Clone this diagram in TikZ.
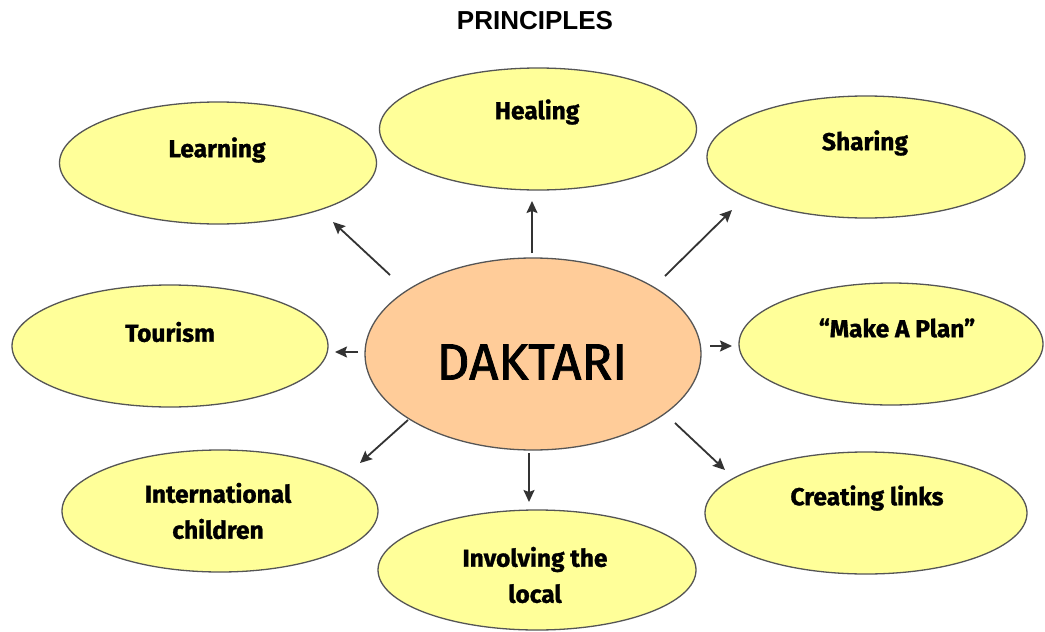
\documentclass[tikz,border=0pt]{standalone}
\usepackage{fontspec}
\setmainfont{Fira Sans}
\newfontfamily\titlefont{Liberation Sans}
\newfontfamily\labfont{Fira Sans}[Ligatures=TeX,BoldFeatures={FakeBold=1.2}]
\newfontfamily\dakfont{Fira Sans}[FakeBold=1.6]
\usetikzlibrary{shapes.geometric,arrows.meta}
\definecolor{bubble}{HTML}{FFFF99}
\definecolor{core}{HTML}{FFCC99}
\definecolor{edge}{HTML}{555555}
\definecolor{arrowc}{HTML}{333333}
\begin{document}
\begin{tikzpicture}[x=1pt,y=-1pt,
  bub/.style={ellipse,draw=edge,line width=1.3pt,fill=bubble,inner sep=0pt},
  lab/.style={font=\labfont\fontsize{24.5}{36}\selectfont\bfseries,align=center,inner sep=0pt},
  arr/.style={draw=arrowc,line width=1.8pt,-{Stealth[length=12pt,width=11pt,inset=2pt]}}]
\useasboundingbox (0,0) rectangle (1045,632);
\fill[white] (0,0) rectangle (1045,632);

\node[font=\titlefont\fontsize{26}{30}\selectfont\bfseries,inner sep=0pt] (title) at (535,21) {PRINCIPLES};

% bubbles
\node[bub,minimum width=317pt,minimum height=122pt] (learn) at (218,163) {};
\node[bub,minimum width=317pt,minimum height=122pt] (heal) at (538,129) {};
\node[bub,minimum width=318pt,minimum height=122pt] (share) at (866,157) {};
\node[bub,minimum width=316pt,minimum height=122pt] (tour) at (170,346) {};
\node[bub,minimum width=304pt,minimum height=122pt] (plan) at (891,344) {};
\node[bub,minimum width=316pt,minimum height=122pt] (intl) at (220,511) {};
\node[bub,minimum width=318pt,minimum height=120pt] (invol) at (537,570) {};
\node[bub,minimum width=322pt,minimum height=122pt] (links) at (866,513) {};
\node[ellipse,draw=edge,line width=1.3pt,fill=core,inner sep=0pt,minimum width=336pt,minimum height=192pt] (dak) at (533,354) {};

% labels
\node[lab] (learnT) at (217,150) {Learning};
\node[lab] (healT) at (537,112) {Healing};
\node[lab] (shareT) at (865,143) {Sharing};
\node[lab] (tourT) at (170,332) {Tourism};
\node[lab] (planT) at (897,328) {“Make A Plan”};
\node[lab] (intlT) at (218,511) {International\\children};
\node[lab] (involT) at (535,575) {Involving the\\local};
\node[lab] (linksT) at (867,498) {Creating links};
\node[font=\dakfont\fontsize{51}{55}\selectfont,inner sep=0pt] (dakT) at (532,362) {DAKTARI};

% arrow ends
\coordinate (s1) at (390,275); \coordinate (t1) at (333,222);
\coordinate (s2) at (532,253); \coordinate (t2) at (532,201);
\coordinate (s3) at (665,276); \coordinate (t3) at (732,210);
\coordinate (s4) at (710,346); \coordinate (t4) at (732,346);
\coordinate (s5) at (358,352); \coordinate (t5) at (335,352);
\coordinate (s6) at (408,420); \coordinate (t6) at (360,463);
\coordinate (s7) at (529,453); \coordinate (t7) at (529,502);
\coordinate (s8) at (675,423); \coordinate (t8) at (725,470);

\draw[arr] (s1) -- (t1);
\draw[arr] (s2) -- (t2);
\draw[arr] (s3) -- (t3);
\draw[arr] (s4) -- (t4);
\draw[arr] (s5) -- (t5);
\draw[arr] (s6) -- (t6);
\draw[arr] (s7) -- (t7);
\draw[arr] (s8) -- (t8);
\end{tikzpicture}
\end{document}
